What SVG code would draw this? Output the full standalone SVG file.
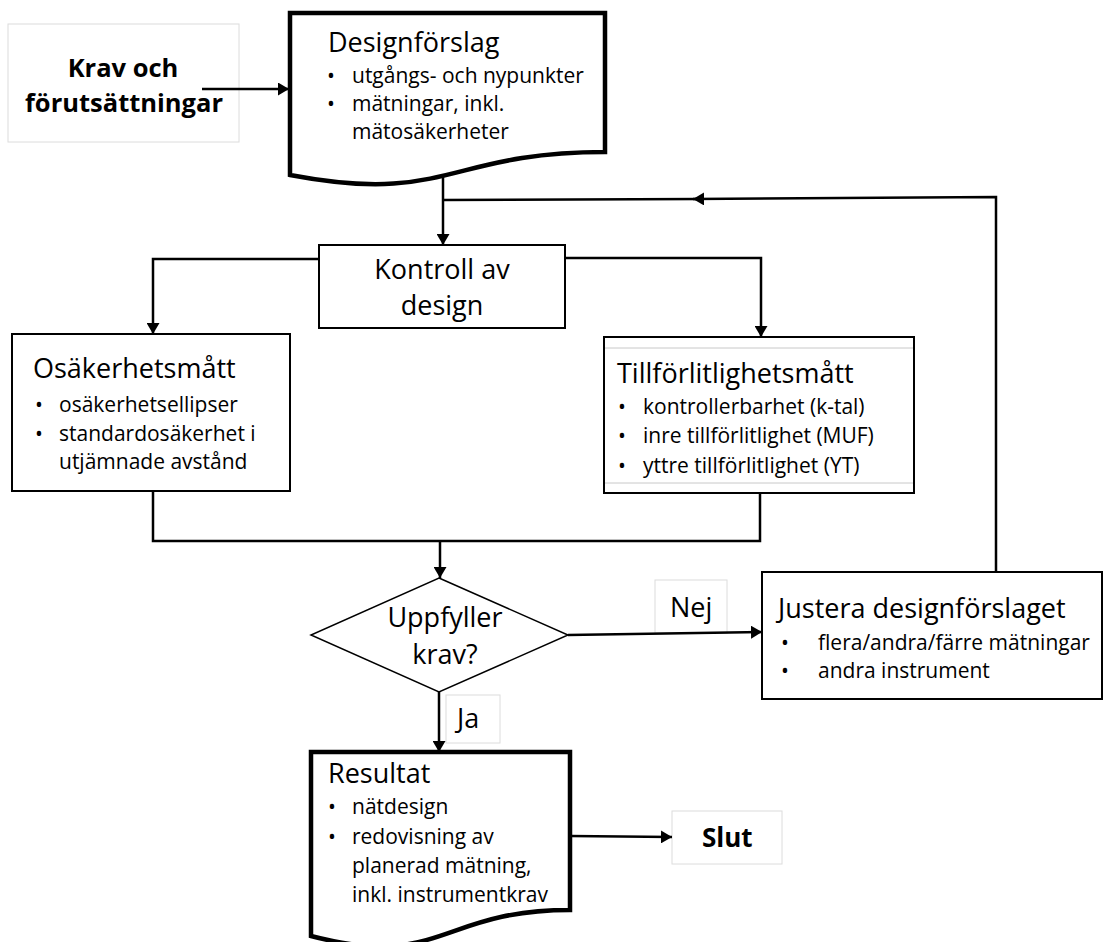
<svg xmlns="http://www.w3.org/2000/svg" width="1104" height="942" viewBox="0 0 1104 942">
<defs>
<style>
text{font-family:"Open Sans","Noto Sans","Liberation Sans",sans-serif;fill:#000}
.t{font-size:27px}
.b{font-size:21px}
.bold{font-weight:bold;font-size:25.5px}
.box{fill:#fff;stroke:#000;stroke-width:2}
.doc{fill:#fff;stroke:#000;stroke-width:4.5;stroke-linejoin:miter}
.lbl{fill:#fff;stroke:#dcdcdc;stroke-width:1}
.c{fill:none;stroke:#000;stroke-width:2.5}
.ca{fill:none;stroke:#000;stroke-width:2.5;marker-end:url(#ah)}
</style>
<marker id="ah" markerUnits="userSpaceOnUse" markerWidth="11" markerHeight="13" refX="11" refY="6.5" orient="auto">
<path d="M0,0 L11,6.5 L0,13 Z" fill="#000"/>
</marker>
</defs>
<rect width="1104" height="942" fill="#fff"/>

<g id="krav">
<rect class="lbl" x="8" y="24" width="231" height="118" stroke="#d4d4d4"/>
<text class="bold" x="123" y="77" text-anchor="middle">Krav och</text>
<text class="bold" x="124" y="112" text-anchor="middle">förutsättningar</text>
</g>

<g id="designforslag">
<path class="doc" d="M290,13 H605 V152 C447.5,152 447.5,205 290,175 Z"/>
<text class="t" x="328" y="52">Designförslag</text>
<text class="b" x="327" y="83">•</text>
<text class="b" x="352" y="83">utgångs- och nypunkter</text>
<text class="b" x="327" y="111">•</text>
<text class="b" x="352" y="111">mätningar, inkl.</text>
<text class="b" x="352" y="139">mätosäkerheter</text>
</g>

<g id="kontroll">
<rect class="box" x="319" y="245" width="246" height="83"/>
<text class="t" x="442" y="279" text-anchor="middle">Kontroll av</text>
<text class="t" x="442" y="315" text-anchor="middle">design</text>
</g>

<g id="osakerhet">
<rect class="box" x="12" y="334" width="278" height="157"/>
<text class="t" x="33" y="378">Osäkerhetsmått</text>
<text class="b" x="35" y="412">•</text>
<text class="b" x="59" y="412">osäkerhetsellipser</text>
<text class="b" x="35" y="441">•</text>
<text class="b" x="59" y="441">standardosäkerhet i</text>
<text class="b" x="59" y="469">utjämnade avstånd</text>
</g>

<g id="tillforlitlighet">
<rect class="box" x="604" y="337" width="310" height="156"/>
<line x1="605" y1="348" x2="913" y2="348" stroke="#c8c8c8" stroke-width="1"/>
<line x1="605" y1="483" x2="913" y2="483" stroke="#c8c8c8" stroke-width="1"/>
<text class="t" x="617" y="383">Tillförlitlighetsmått</text>
<text class="b" x="618" y="414">•</text>
<text class="b" x="643" y="414">kontrollerbarhet (k-tal)</text>
<text class="b" x="618" y="443">•</text>
<text class="b" x="643" y="443">inre tillförlitlighet (MUF)</text>
<text class="b" x="618" y="473">•</text>
<text class="b" x="643" y="473">yttre tillförlitlighet (YT)</text>
</g>

<g id="uppfyller">
<path d="M439,578 L568,635 L439,692 L311,635 Z" fill="#fff" stroke="#000" stroke-width="1.5"/>
<text class="t" x="445" y="627" text-anchor="middle">Uppfyller</text>
<text class="t" x="445" y="664" text-anchor="middle">krav?</text>
</g>

<g id="justera">
<rect class="box" x="762" y="572" width="340" height="127"/>
<text class="t" x="778" y="618">Justera designförslaget</text>
<text class="b" x="781" y="650">•</text>
<text class="b" x="818" y="650">flera/andra/färre mätningar</text>
<text class="b" x="781" y="678">•</text>
<text class="b" x="818" y="678">andra instrument</text>
</g>

<g id="resultat">
<path class="doc" d="M311,752 H570 V910 C440.5,910 440.5,970 311,936 Z"/>
<text class="t" x="328" y="783">Resultat</text>
<text class="b" x="328" y="814">•</text>
<text class="b" x="352" y="814">nätdesign</text>
<text class="b" x="328" y="844">•</text>
<text class="b" x="352" y="844">redovisning av</text>
<text class="b" x="352" y="873">planerad mätning,</text>
<text class="b" x="352" y="902">inkl. instrumentkrav</text>
</g>

<g id="nej">
<rect class="lbl" x="655" y="580" width="72" height="53"/>
<text class="t" x="670" y="617">Nej</text>
</g>

<g id="ja">
<rect class="lbl" x="446" y="695" width="54" height="48"/>
<text class="t" x="457" y="728">Ja</text>
</g>

<g id="slut">
<rect class="lbl" x="672" y="811" width="110" height="53"/>
<text class="bold" x="702" y="847" style="font-size:26px">Slut</text>
</g>

<g id="connectors">
<line class="ca" x1="202" y1="89" x2="289" y2="89"/>
<line class="ca" x1="443" y1="176" x2="443" y2="245"/>
<polyline class="ca" points="996,572 996,197 693,199"/>
<line class="c" x1="700" y1="199" x2="443" y2="200"/>
<polyline class="ca" points="319,259 153,259 153,334"/>
<polyline class="ca" points="565,258 761,258 761,337"/>
<polyline class="c" points="153,491 153,541 760,541 760,493"/>
<line class="ca" x1="440" y1="541" x2="440" y2="578"/>
<line class="ca" x1="568" y1="635" x2="762" y2="632"/>
<line class="ca" x1="439" y1="692" x2="439" y2="752"/>
<line class="ca" x1="570" y1="836" x2="672" y2="837"/>
</g>
</svg>
